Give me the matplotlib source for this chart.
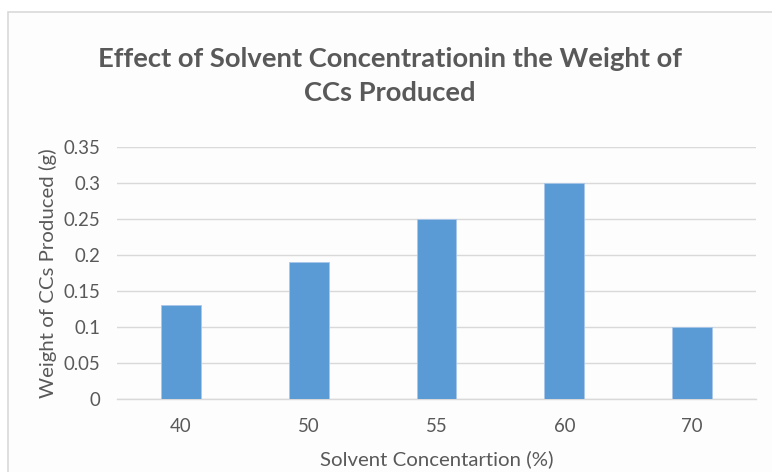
import matplotlib
matplotlib.use("Agg")
import matplotlib.pyplot as plt
from matplotlib.patches import Rectangle
import numpy as np

# solvent concentration (%) vs weight of CCs produced (g)
concentrations = ["40", "50", "55", "60", "70"]
weights = [0.13, 0.19, 0.25, 0.30, 0.10]
y_ticks = [0, 0.05, 0.1, 0.15, 0.2, 0.25, 0.3, 0.35]
y_tick_labels = ["0", "0.05", "0.1", "0.15", "0.2", "0.25", "0.3", "0.35"]

W, H = 772, 472
text_grey = "#595959"
bar_blue = "#5b9bd5"
grid_grey = "#d9d9d9"

plt.rcParams["font.family"] = ["Lato", "DejaVu Sans"]

fig = plt.figure(figsize=(W / 100, H / 100), dpi=100)

# chart frame, runs off the right and bottom edge
fig.patches.append(Rectangle((8 / W, -0.05), 1.0, (H - 12) / H + 0.05,
                             transform=fig.transFigure, facecolor="#fdfdfd",
                             edgecolor=grid_grey, linewidth=1.2, zorder=-5))

ax = fig.add_axes([117 / W, 1 - 399 / H, (756 - 117) / W, (399 - 147) / H])
ax.set_zorder(2)
ax.set_facecolor("none")

x = np.arange(len(concentrations))
ax.bar(x, weights, width=0.31, color=bar_blue, edgecolor="#a9c8ea",
       linewidth=0.6, zorder=3)

ax.set_xlim(-0.5, len(concentrations) - 0.5)
ax.set_ylim(0, 0.35)
ax.set_yticks(y_ticks)
ax.set_yticklabels(y_tick_labels)
ax.set_xticks(x)
ax.set_xticklabels(concentrations)

ax.grid(axis="y", color=grid_grey, linewidth=1.0, zorder=0)
for side in ["top", "right", "left"]:
    ax.spines[side].set_visible(False)
ax.spines["bottom"].set_color(grid_grey)
ax.spines["bottom"].set_linewidth(1.0)

ax.tick_params(axis="both", length=0, labelsize=13.4, labelcolor=text_grey)
ax.tick_params(axis="x", pad=13.5)
ax.tick_params(axis="y", pad=12)

ax.set_xlabel("Solvent Concentartion (%)", fontsize=14.7, color=text_grey,
              labelpad=11)
ax.set_ylabel("Weight of CCs Produced (g)", fontsize=14.7, color=text_grey,
              labelpad=5)

fig.text(0.5 * (8 + W) / W, 1 - 76 / H,
         "Effect of Solvent Concentrationin the Weight of\nCCs Produced",
         ha="center", va="center", fontsize=19.7, fontweight="bold",
         color=text_grey, linespacing=1.5, zorder=3)

fig.savefig("out.png", dpi=100, facecolor="white")
